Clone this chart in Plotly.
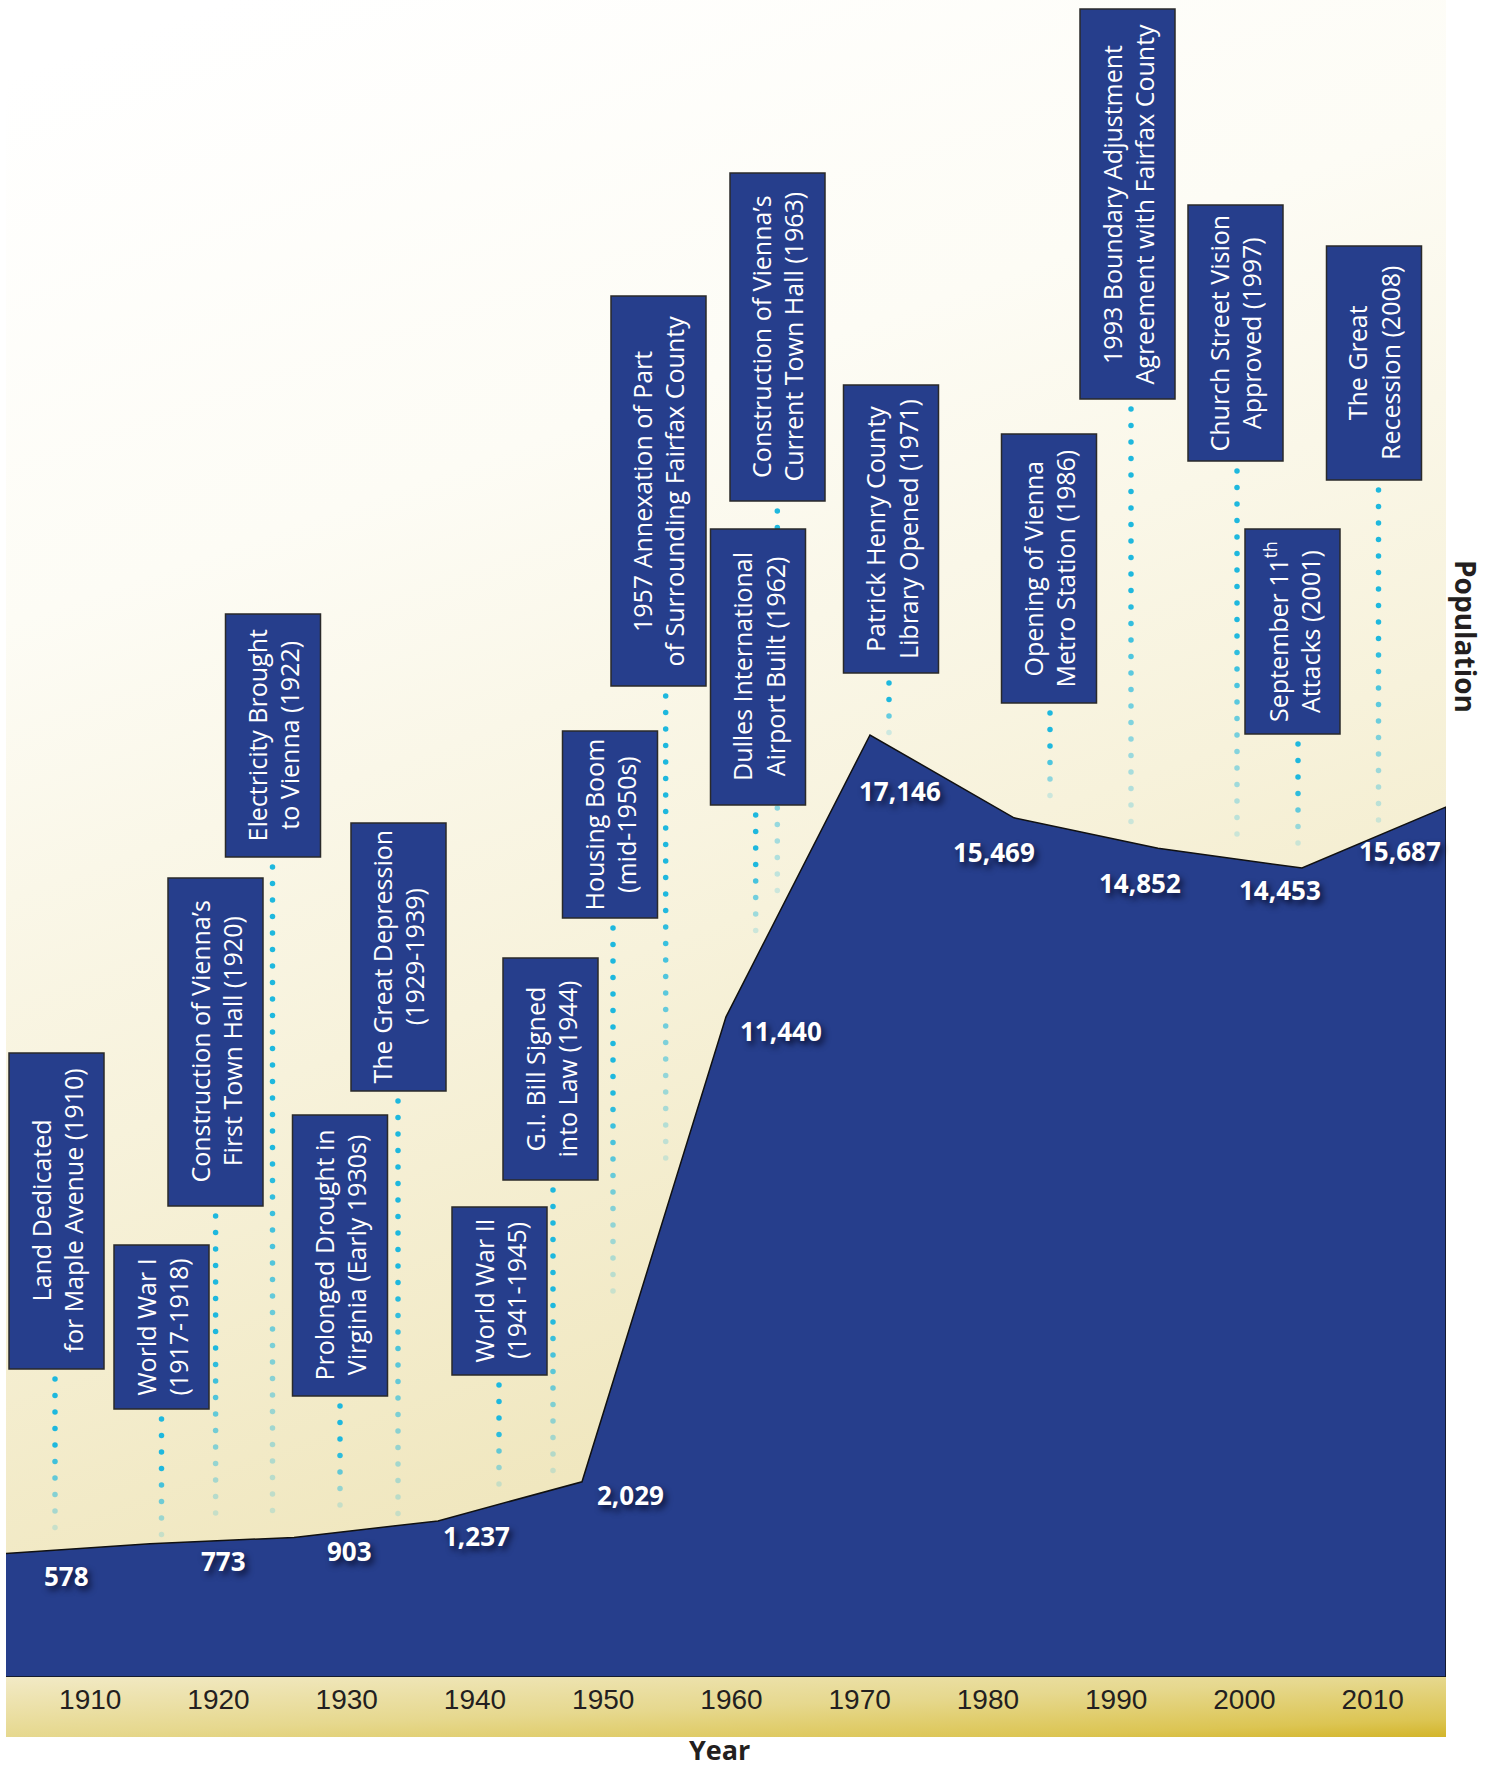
import base64
import numpy as np
import plotly.graph_objects as go

# ---------------- data ----------------
census_years = [1910, 1920, 1930, 1940, 1950, 1960, 1970, 1980, 1990, 2000, 2010]
population = [578, 773, 903, 1237, 2029, 11440, 17146, 15469, 14852, 14453, 15687]
population_text = ["578", "773", "903", "1,237", "2,029", "11,440", "17,146",
                   "15,469", "14,852", "14,453", "15,687"]

tick_years = [1910, 1920, 1930, 1940, 1950, 1960, 1970, 1980, 1990, 2000, 2010]
tick_labels = ["1910", "1920", "1930", "1940", "1950", "1960", "1970",
               "1980", "1990", "2000", "2010"]

event_labels = [
    "Land Dedicated<br>for Maple Avenue (1910)",
    "World War I<br>(1917-1918)",
    "Construction of Vienna’s<br>First Town Hall (1920)",
    "Electricity Brought<br>to Vienna (1922)",
    "Prolonged Drought in<br>Virginia (Early 1930s)",
    "The Great Depression<br>(1929-1939)",
    "World War II<br>(1941-1945)",
    "G.I. Bill Signed<br>into Law (1944)",
    "Housing Boom<br>(mid-1950s)",
    "1957 Annexation of Part<br>of Surrounding Fairfax County",
    "Dulles International<br>Airport Built (1962)",
    "Construction of Vienna’s<br>Current Town Hall (1963)",
    "Patrick Henry County<br>Library Opened (1971)",
    "Opening of Vienna<br>Metro Station (1986)",
    "1993 Boundary Adjustment<br>Agreement with Fairfax County",
    "Church Street Vision<br>Approved (1997)",
    "September 11<sup>th</sup><br>Attacks (2001)",
    "The Great<br>Recession (2008)",
]

# ---------------- layout geometry (pixels) ----------------
W, H = 1486, 1769
ML, MR, MT, MB = 6, 40, 0, 92
PW, PH = W - ML - MR, H - MT - MB
Y_RANGE = [-1923, 32024]
X_RANGE = [1910, 2010]
X2_RANGE = [1903.43, 2015.72]

BLUE = "#263E8C"

# value-label offsets from their vertex (px)
label_dx = [60, 73, 55, 38, 48, 55, 30, -20, -18, -22, -46]
label_dy = [23, 17, 14, 15, 13, 14, 56, 34, 35, 22, 44]

# event box placement (px)
box_cx = [56.5, 161.5, 215.5, 273, 340, 398.5, 499.5, 550.5, 610, 658.5, 758, 777.5,
          891, 1049, 1127.5, 1235.5, 1292.5, 1374]
box_top = [1053, 1245, 878, 614, 1115, 823, 1207, 958, 731, 296, 529, 173, 385, 434,
           9, 205, 529, 246]
box_bot = [1369, 1409, 1206, 857, 1396, 1091, 1375, 1180, 918, 686, 805, 501, 673, 703,
           399, 461, 734, 480]
dot_x = [55, 161.5, 215.6, 272.5, 340, 398, 499, 553, 613, 665.7, 755.7, 777.3, 889,
         1050, 1131, 1237, 1298, 1378.5]
dot_end = [1538, 1536, 1529, 1519, 1520, 1515, 1499, 1476, 1300, 1165, 940, 900, 745,
           808, 838, 847, 858, 822]
BOX_W = 95


def px_to_x2(px):
    return X2_RANGE[0] + (px - ML) / PW * (X2_RANGE[1] - X2_RANGE[0])


def py_to_paper(py):
    return 1 - py / PH


def py_to_y(py):
    return Y_RANGE[1] - py / PH * (Y_RANGE[1] - Y_RANGE[0])


def svg_uri(svg):
    return "data:image/svg+xml;base64," + base64.b64encode(svg.encode()).decode()


bg_svg = (
    '<svg xmlns="http://www.w3.org/2000/svg" width="1440" height="1677" '
    'viewBox="0 0 1440 1677" preserveAspectRatio="none">'
    '<defs><linearGradient id="g" x1="0.15" y1="0" x2="0.45" y2="1">'
    '<stop offset="0" stop-color="#FFFFFF"/>'
    '<stop offset="0.3" stop-color="#FDFCF5"/>'
    '<stop offset="0.6" stop-color="#F7F2DB"/>'
    '<stop offset="1" stop-color="#EDE2B2"/>'
    '</linearGradient></defs>'
    '<rect width="1440" height="1677" fill="url(#g)"/></svg>'
)
band_svg = (
    '<svg xmlns="http://www.w3.org/2000/svg" width="1440" height="60" '
    'viewBox="0 0 1440 60" preserveAspectRatio="none">'
    '<defs><linearGradient id="b" x1="0" y1="0" x2="1" y2="1">'
    '<stop offset="0" stop-color="#F2EAC6"/>'
    '<stop offset="0.5" stop-color="#E6D88E"/>'
    '<stop offset="0.85" stop-color="#DCC553"/>'
    '<stop offset="1" stop-color="#D3B52A"/>'
    '</linearGradient></defs>'
    '<rect width="1440" height="60" fill="url(#b)"/></svg>'
)

fig = go.Figure()

# dotted leader lines
dxs, dys, dcol = [], [], []
for x, b, e in zip(dot_x, box_bot, dot_end):
    ys = np.arange(b + 10, e, 16.5)
    n = len(ys)
    for i, py in enumerate(ys):
        t = i / max(n - 1, 1)
        a = 1.0 if t < 0.45 else 1.0 - 0.8 * (t - 0.45) / 0.55
        dxs.append(px_to_x2(x))
        dys.append(py_to_y(py))
        dcol.append(f"rgba(30,184,222,{a:.2f})")
fig.add_trace(go.Scatter(x=dxs, y=dys, xaxis="x2", yaxis="y", mode="markers",
                         marker=dict(size=5.5, color=dcol, line=dict(width=0)),
                         hoverinfo="skip", showlegend=False))

# population area
fig.add_trace(go.Scatter(
    x=census_years + [census_years[-1], census_years[0]],
    y=population + [Y_RANGE[0], Y_RANGE[0]],
    fill="toself", fillcolor=BLUE, mode="lines",
    line=dict(color="#111111", width=1.5),
    hoverinfo="skip", showlegend=False))

shapes = []
annotations = []
for lab, cx, t, b in zip(event_labels, box_cx, box_top, box_bot):
    shapes.append(dict(type="rect", xref="x2", yref="paper",
                       x0=px_to_x2(cx - BOX_W / 2), x1=px_to_x2(cx + BOX_W / 2),
                       y0=py_to_paper(b), y1=py_to_paper(t),
                       fillcolor=BLUE, line=dict(color="#2a2a2a", width=1.5),
                       layer="above"))
    annotations.append(dict(x=px_to_x2(cx), y=py_to_paper((t + b) / 2),
                            xref="x2", yref="paper", text=lab, textangle=-90,
                            showarrow=False, xanchor="center", yanchor="middle",
                            font=dict(family="Open Sans", size=25, color="white")))

for yr, v, txt, dx, dy in zip(census_years, population, population_text, label_dx, label_dy):
    annotations.append(dict(x=yr, y=v, xref="x", yref="y", text=txt, showarrow=False,
                            xanchor="center", yanchor="middle", xshift=dx, yshift=-dy,
                            font=dict(family="Open Sans", size=26, color="white",
                                      weight="bold",
                                      shadow="3px 4px 6px rgba(0,0,20,0.75)")))

annotations.append(dict(x=(719 - ML) / PW, y=-(1749 - PH) / PH, xref="paper", yref="paper",
                        text="<b>Year</b>", showarrow=False, xanchor="center",
                        yanchor="middle", borderpad=0,
                        font=dict(family="Open Sans", size=27, color="#231F20")))
annotations.append(dict(x=(1466 - ML) / PW, y=1 - 636 / PH, xref="paper", yref="paper",
                        text="<b>Population</b>", textangle=90, showarrow=False,
                        xanchor="center", yanchor="middle",
                        font=dict(family="Open Sans", size=28, color="#231F20")))

images = [
    dict(source=svg_uri(bg_svg), xref="paper", yref="paper", x=0, y=1, sizex=1, sizey=1,
         xanchor="left", yanchor="top", sizing="stretch", layer="below"),
    dict(source=svg_uri(band_svg), xref="paper", yref="paper", x=0, y=0, sizex=1,
         sizey=60 / PH, xanchor="left", yanchor="top", sizing="stretch", layer="below"),
]

fig.update_layout(
    width=W, height=H,
    margin=dict(l=ML, r=MR, t=MT, b=MB, pad=0),
    paper_bgcolor="white", plot_bgcolor="rgba(0,0,0,0)",
    showlegend=False,
    xaxis=dict(range=X_RANGE, visible=False, fixedrange=True),
    xaxis2=dict(range=X2_RANGE, overlaying="x", anchor="y", side="bottom",
                tickvals=tick_years, ticktext=tick_labels, showgrid=False,
                zeroline=False, showline=False, ticks="", ticklabelstandoff=3,
                tickfont=dict(family="Liberation Sans", size=28, color="#231F20")),
    yaxis=dict(range=Y_RANGE, visible=False, fixedrange=True),
    shapes=shapes, annotations=annotations, images=images,
)

fig.write_html("out.html",
               config={"displayModeBar": False},
               post_script="document.body.style.margin='0';"
                           "document.body.style.overflow='hidden';")
